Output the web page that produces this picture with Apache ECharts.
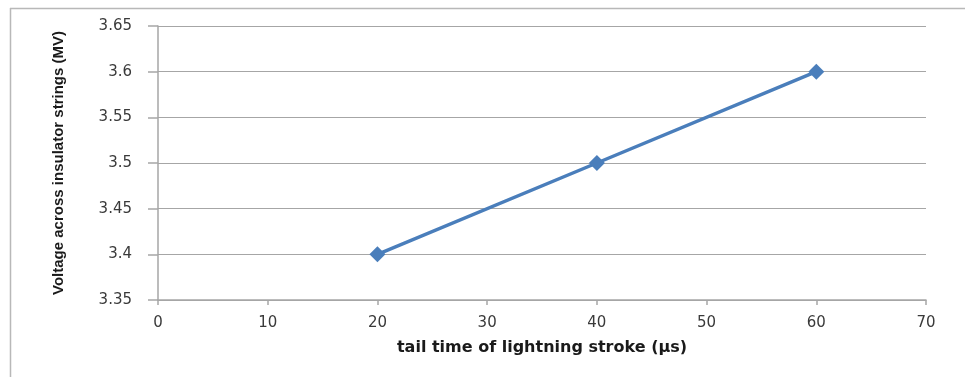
<!DOCTYPE html>
<html>
<head>
<meta charset="utf-8">
<script src="https://cdn.jsdelivr.net/npm/echarts@6/dist/echarts.min.js"></script>
<style>html,body{margin:0;padding:0;background:#fff;}#c{width:965px;height:377px;}</style>
</head>
<body>
<div id="c"></div>
<script>
const xValues = [20, 40, 60];
const yValues = [3.4, 3.5, 3.6];
const xName = 'tail time of lightning stroke (µs)';
const yName = 'Voltage across insulator strings (MV)';

const chart = echarts.init(document.getElementById('c'), null, {renderer: 'canvas'});
chart.setOption({
  animation: false,
  backgroundColor: '#ffffff',
  grid: {left: 158, right: 39, top: 26, bottom: 77, containLabel: false},
  graphic: [
    {type: 'line', shape: {x1: 10, y1: 8.5, x2: 965, y2: 8.5}, style: {stroke: '#b8b8b8', lineWidth: 1.5}},
    {type: 'line', shape: {x1: 10.5, y1: 8, x2: 10.5, y2: 377}, style: {stroke: '#b8b8b8', lineWidth: 1.5}}
  ],
  xAxis: {
    type: 'value', min: 0, max: 70, interval: 10,
    name: xName, nameLocation: 'middle', nameGap: 40,
    nameTextStyle: {fontFamily: 'DejaVu Sans', fontWeight: 'bold', fontSize: 16, color: '#1a1a1a'},
    axisLine: {show: true, lineStyle: {color: '#a6a6a6', width: 1.5}},
    axisTick: {show: true, length: 5, lineStyle: {color: '#a6a6a6', width: 1.5}},
    axisLabel: {margin: 16, fontFamily: 'DejaVu Sans', fontSize: 15, color: '#3a3a3a'},
    splitLine: {show: false}
  },
  yAxis: {
    type: 'value', min: 3.35, max: 3.65, interval: 0.05,
    name: yName, nameLocation: 'middle', nameGap: 92, nameRotate: 90,
    nameTextStyle: {fontFamily: "'Liberation Sans Narrow', 'Liberation Sans'", fontWeight: 'bold', fontSize: 15, color: '#1a1a1a'},
    axisLine: {show: true, lineStyle: {color: '#a6a6a6', width: 1.5}},
    axisTick: {show: true, inside: false, length: 10, lineStyle: {color: '#a6a6a6', width: 1.5}},
    axisLabel: {margin: 26, fontFamily: 'DejaVu Sans', fontSize: 15, color: '#3a3a3a',
      formatter: function (v) { return String(parseFloat(v.toFixed(2))); }},
    splitLine: {show: true, lineStyle: {color: '#a6a6a6', width: 1.2}}
  },
  series: [{
    type: 'line',
    data: xValues.map((x, i) => [x, yValues[i]]),
    symbol: 'diamond', symbolSize: 16,
    lineStyle: {color: '#4a7ebb', width: 3.5},
    itemStyle: {color: '#4a7ebb'}
  }]
});
</script>
</body>
</html>
